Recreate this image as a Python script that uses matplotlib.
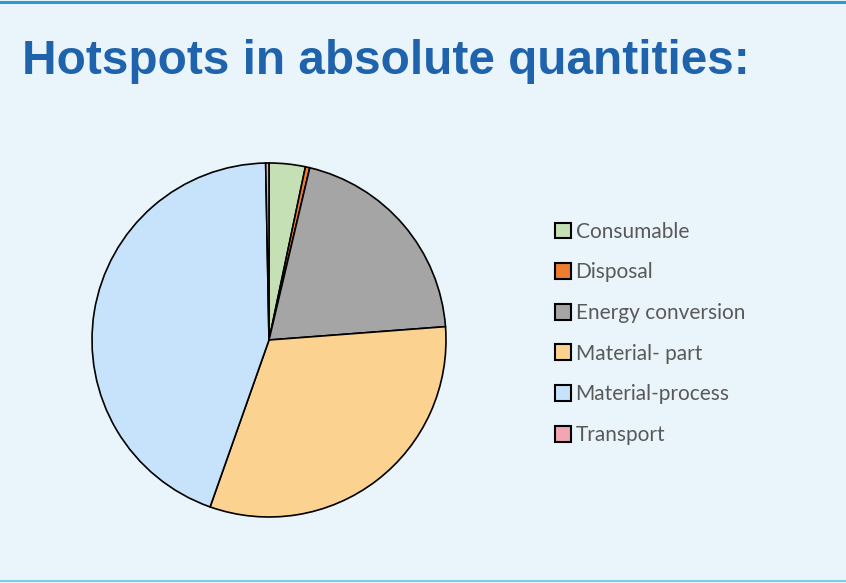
import matplotlib.pyplot as plt
from matplotlib.lines import Line2D

categories = ['Consumable', 'Disposal', 'Energy conversion', 'Material- part',
              'Material-process', 'Transport']
shares = [3.3, 0.4, 20.1, 31.6, 44.3, 0.3]
colors = ['#C5E0B4', '#ED7D31', '#A5A5A5', '#FBD28F', '#C7E3FB', '#F2A6B4']

bg = '#EAF5FB'

fig = plt.figure(figsize=(8.46, 5.83), dpi=100, facecolor=bg)

# slide border lines
fig.add_artist(Line2D([0, 1], [0.996, 0.996], color='#2A9BD1', lw=2.2))
fig.add_artist(Line2D([0, 1], [0.003, 0.003], color='#7FCAE9', lw=1.5))

fig.text(0.026, 1 - 62 / 583, 'Hotspots in absolute quantities:', fontsize=34.4,
         fontweight='bold', color='#1F63AD', family='Liberation Sans',
         va='center', ha='left')

# pie axis: centre ~ (269, 340) px, radius ~177 px
ax = fig.add_axes([(269 - 180) / 846, (583 - 340 - 180) / 583, 360 / 846, 360 / 583])
ax.set_facecolor(bg)
wedges, _ = ax.pie(shares, colors=colors, startangle=90, counterclock=False,
                   radius=177 / 180,
                   wedgeprops=dict(edgecolor='black', linewidth=1.2))
ax.set_xlim(-1, 1)
ax.set_ylim(-1, 1)
ax.set_aspect('equal')
ax.axis('off')

leg = fig.legend(wedges, categories, loc='upper left',
                 bbox_to_anchor=(536 / 846, 1 - 203 / 583), frameon=False,
                 handlelength=0.8, handleheight=0.8, handletextpad=0.2,
                 labelspacing=0.99, prop=dict(family='Lato', size=15))
for t in leg.get_texts():
    t.set_color('#595959')
for h in leg.legend_handles:
    h.set_linewidth(1.5)

fig.savefig('out.png', dpi=100, facecolor=bg)
